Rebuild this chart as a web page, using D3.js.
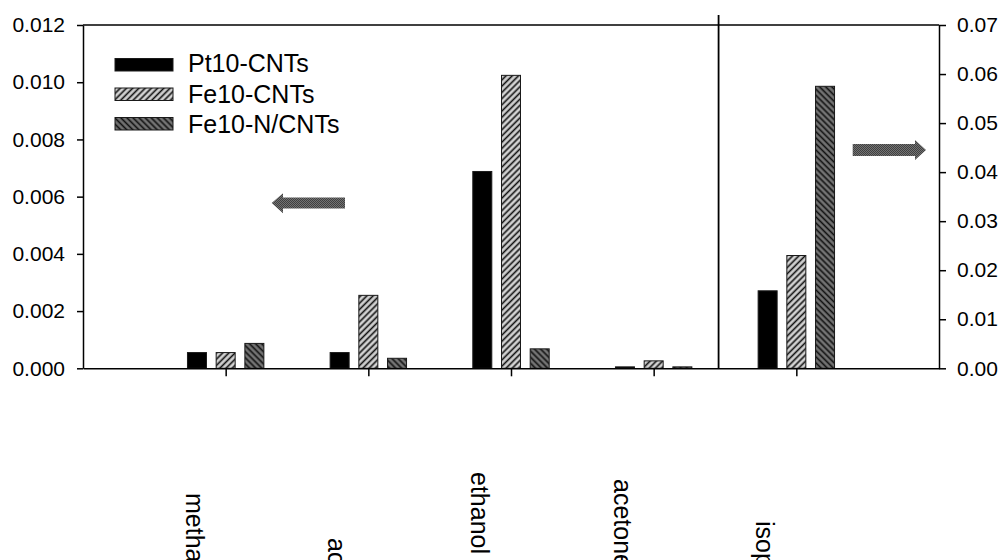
<!DOCTYPE html>
<html><head><meta charset="utf-8">
<script src="https://cdn.jsdelivr.net/npm/d3@7"></script>
<style>
html,body{margin:0;padding:0;background:#fff;overflow:hidden;}
text{font-family:"Liberation Sans",Arial,sans-serif;fill:#000;}
</style></head>
<body>
<svg id="chart" width="1002" height="560"></svg>
<script>
// ---- data ----
const categories = ["methanol", "acetaldehyde", "ethanol", "acetone", "isopropanol"];
const series = ["Pt10-CNTs", "Fe10-CNTs", "Fe10-N/CNTs"];
const pt10CNTs  = [0.00055, 0.00055, 0.00688, 0.00005, 0.0158];
const fe10CNTs  = [0.00055, 0.00255, 0.01024, 0.00026, 0.0230];
const fe10NCNTs = [0.00087, 0.00035, 0.00068, 0.00005, 0.0575];
const rightAxisCategories = ["isopropanol"];
const leftTicks  = [0, 0.002, 0.004, 0.006, 0.008, 0.010, 0.012];
const rightTicks = [0, 0.01, 0.02, 0.03, 0.04, 0.05, 0.06, 0.07];

// ---- layout ----
const L = 83, R = 939, T = 25, B = 368.3;
const labelStartY = [493, 538, 472, 479, 521];

const svg = d3.select("#chart");
const defs = svg.append("defs");

function hatch(id, bg, angle, w, lw, color) {
  const p = defs.append("pattern").attr("id", id).attr("patternUnits", "userSpaceOnUse")
    .attr("width", w).attr("height", w).attr("patternTransform", `rotate(${angle})`);
  p.append("rect").attr("width", w).attr("height", w).attr("fill", bg);
  p.append("line").attr("x1", w/2).attr("x2", w/2).attr("y1", 0).attr("y2", w)
    .attr("stroke", color).attr("stroke-width", lw);
}
hatch("pFe10", "#d2d2d2", 45, 4.4, 1.6, "#111");
hatch("pFe10N", "#737373", -45, 4.3, 1.6, "#111");
const dp = defs.append("pattern").attr("id", "pArrow").attr("patternUnits", "userSpaceOnUse")
  .attr("width", 2).attr("height", 2);
dp.append("rect").attr("width", 2).attr("height", 2).attr("fill", "#737373");
dp.append("rect").attr("width", 1).attr("height", 1).attr("fill", "#404040");
dp.append("rect").attr("x", 1).attr("y", 1).attr("width", 1).attr("height", 1).attr("fill", "#404040");

const fills = ["#000", "url(#pFe10)", "url(#pFe10N)"];
const values = [pt10CNTs, fe10CNTs, fe10NCNTs];

const x = d3.scalePoint().domain(categories).range([L, R]).padding(1);
const x1 = d3.scaleBand().domain(series).range([-38.2, 38.2]).paddingInner(0.338);
const yL = d3.scaleLinear().domain([0, 0.012]).range([B, T]);
const yR = d3.scaleLinear().domain([0, 0.07]).range([B, T]);
const yFor = c => rightAxisCategories.includes(c) ? yR : yL;

// bars
series.forEach((s, si) => {
  svg.append("g").selectAll("rect").data(categories).join("rect")
    .attr("x", c => x(c) + x1(s))
    .attr("width", x1.bandwidth())
    .attr("y", (c, i) => yFor(c)(values[si][i]))
    .attr("height", (c, i) => B - yFor(c)(values[si][i]))
    .attr("fill", fills[si])
    .attr("stroke", "#1a1a1a").attr("stroke-width", 1);
});

// axes
const fontSize = "21px";
const gl = svg.append("g").attr("transform", `translate(${L},0)`)
  .call(d3.axisLeft(yL).tickValues(leftTicks).tickFormat(d3.format(".3f")).tickSize(6).tickSizeOuter(0).tickPadding(12));
const gr = svg.append("g").attr("transform", `translate(${R},0)`)
  .call(d3.axisRight(yR).tickValues(rightTicks).tickFormat(d3.format(".2f")).tickSize(7).tickSizeOuter(0).tickPadding(11));
const gb = svg.append("g").attr("transform", `translate(0,${B})`)
  .call(d3.axisBottom(x).tickSize(8).tickSizeOuter(0).tickFormat(""));
[gl, gr, gb].forEach(g => {
  g.selectAll("text").style("font-size", fontSize).attr("font-family", null);
  g.selectAll("path,line").attr("stroke", "#000").attr("stroke-width", 1.5);
});
// top frame
svg.append("line").attr("x1", L).attr("x2", R).attr("y1", T).attr("y2", T)
  .attr("stroke", "#000").attr("stroke-width", 1.5);
// divider between left-axis and right-axis categories
const divX = x("acetone") + x.step() * 0.455;
svg.append("line").attr("x1", divX).attr("x2", divX).attr("y1", T - 10).attr("y2", B)
  .attr("stroke", "#000").attr("stroke-width", 1.8);

// category labels (rotated)
svg.append("g").selectAll("text").data(categories).join("text")
  .attr("transform", (c, i) => `translate(${x(c) - 40},${labelStartY[i]}) rotate(90)`)
  .attr("text-anchor", "start")
  .style("font-size", "25px")
  .text(c => c);

// legend
const lg = svg.append("g");
series.forEach((s, i) => {
  lg.append("rect").attr("x", 115).attr("y", 58.5 + i * 29.5).attr("width", 58).attr("height", 12.5)
    .attr("fill", fills[i]).attr("stroke", "#1a1a1a").attr("stroke-width", 1);
  lg.append("text").attr("x", 188).attr("y", 72 + i * 30.5).style("font-size", "25px").text(s);
});

// arrows
const arrowL = [[345,197.5],[283,197.5],[283,193.3],[271.7,203],[283,213.3],[283,208.5],[345,208.5]];
const arrowR = [[852.7,144],[915,144],[915,140],[926,150],[915,160],[915,156],[852.7,156]];
[arrowL, arrowR].forEach(pts => {
  svg.append("path").attr("d", d3.line()(pts) + "Z").attr("fill", "url(#pArrow)");
});
</script>
</body></html>
